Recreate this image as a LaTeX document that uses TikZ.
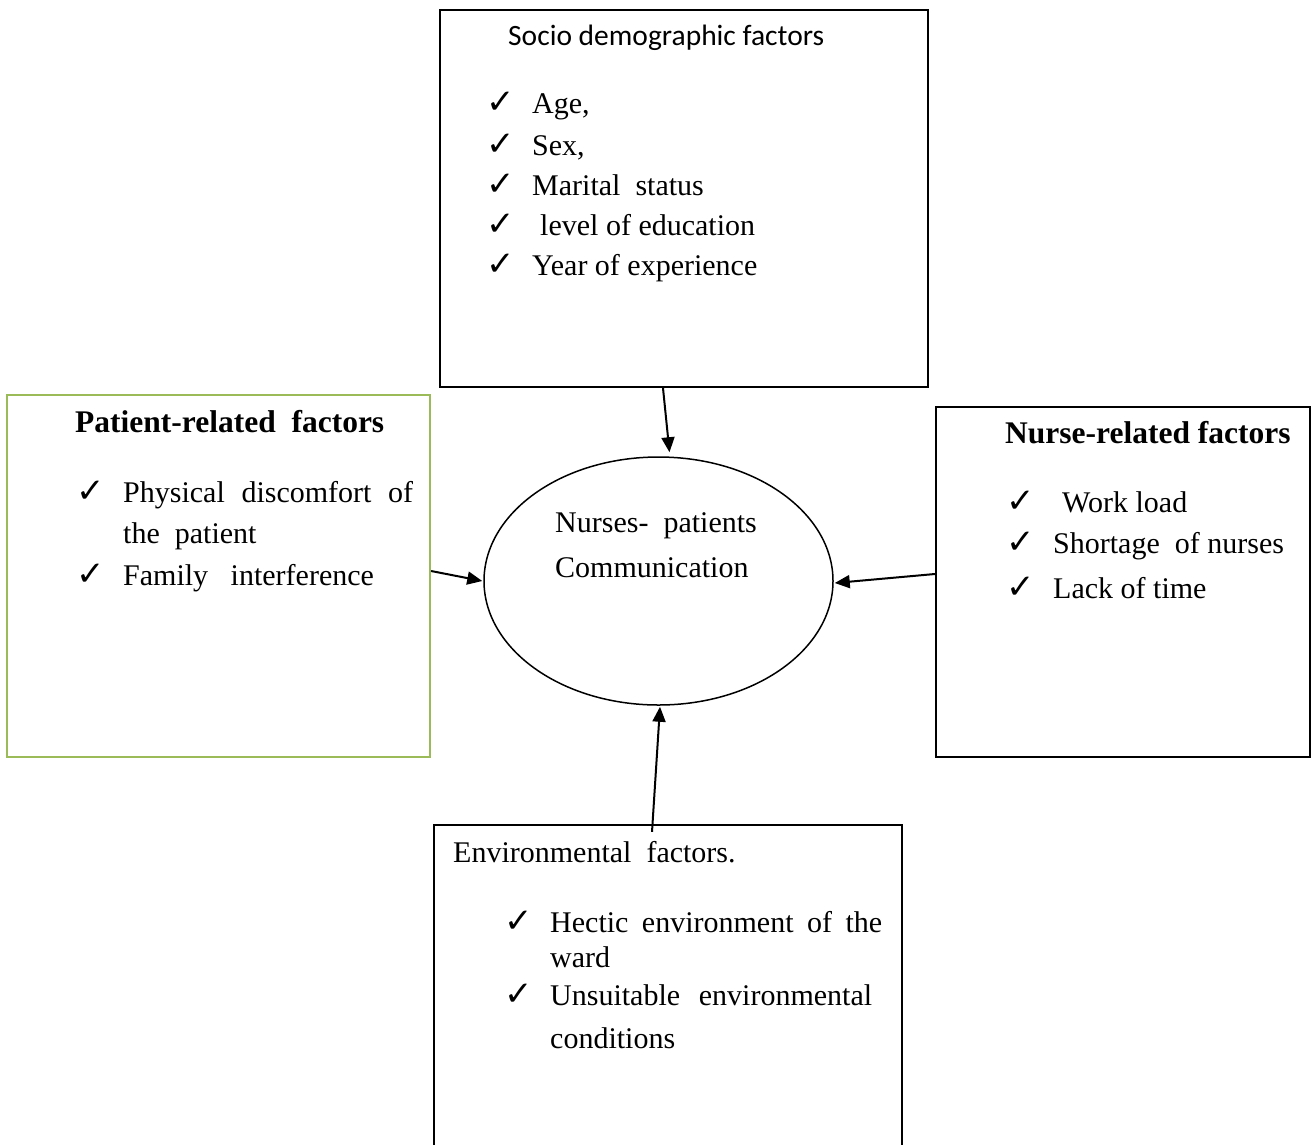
\documentclass[tikz,border=0pt]{standalone}
\usepackage{fontspec}
\setmainfont{Liberation Serif}
\newfontfamily\calfont{Carlito}
\newfontfamily\symfont{DejaVu Sans}
\usetikzlibrary{arrows.meta,shapes.geometric}
\definecolor{boxgreen}{HTML}{9BBB59}
\tikzset{
  frame/.style={draw=black, line width=2.2pt, minimum width=#1, inner sep=0pt},
  txt/.style={anchor=base west, inner sep=0pt, font=\fontsize{30}{34}\selectfont},
  head/.style={anchor=base west, inner sep=0pt, font=\fontsize{31.5}{36}\selectfont\bfseries},
  tick/.style={anchor=base west, inner sep=0pt, font=\fontsize{34}{38}\selectfont\symfont},
  arr/.style={line width=2pt, -{Triangle[length=15pt,width=13pt]}}
}
\begin{document}
\begin{tikzpicture}[x=1pt,y=-1pt]
\useasboundingbox[fill=white] (0,0) rectangle (1314,1144);
% boxes
\node[frame=488pt, minimum height=377pt] (top) at (684,198.5) {};
\node[frame=423pt, minimum height=362pt, draw=boxgreen] (left) at (218.5,576) {};
\node[frame=374pt, minimum height=350pt] (right) at (1123,582) {};
\node[frame=468pt, minimum height=335pt] (bottom) at (668,992.5) {};
\node[draw, line width=1.5pt, ellipse, minimum width=349pt, minimum height=248pt, inner sep=0pt] (ell) at (658.5,581) {};
% top box text
\node[anchor=base west, inner sep=0pt, font=\fontsize{29.5}{34}\selectfont\calfont] (tophead) at (508,45) {Socio demographic factors};
\node[tick] (t1) at (486,113) {✓};
\node[tick] (t2) at (486,155) {✓};
\node[tick] (t3) at (486,195) {✓};
\node[tick] (t4) at (486,235) {✓};
\node[tick] (t5) at (486,275) {✓};
\node[txt] (a1) at (532,113) {Age,};
\node[txt] (a2) at (532,155) {Sex,};
\node[txt] (a3) at (532,195) {Marital\ \ status};
\node[txt] (a4) at (540,235) {level of education};
\node[txt] (a5) at (532,275) {Year of experience};
% left box text
\node[head] (lhead) at (75,432) {Patient-related\ \ factors};
\node[tick] (l1) at (76,502) {✓};
\node[tick] (l2) at (76,585) {✓};
\node[txt] (b1) at (123,502) {\makebox[290pt][s]{Physical discomfort of}};
\node[txt] (b2) at (123,543) {the\ \ patient};
\node[txt] (b3) at (123,585) {Family\ \ \ interference};
% right box text
\node[head] (rhead) at (1005,443) {Nurse-related factors};
\node[tick] (r1) at (1006,512) {✓};
\node[tick] (r2) at (1006,553) {✓};
\node[tick] (r3) at (1006,598) {✓};
\node[txt] (c1) at (1062,512) {Work load};
\node[txt] (c2) at (1053,553) {Shortage\ \ of nurses};
\node[txt] (c3) at (1053,598) {Lack of time};
% bottom box text
\node[txt] (bhead) at (453,862) {Environmental\ \ factors.};
\node[tick] (e1) at (504,932) {✓};
\node[tick] (e2) at (504,1005) {✓};
\node[txt] (d1) at (550,932) {\makebox[332pt][s]{Hectic environment of the}};
\node[txt] (d2) at (550,967) {ward};
\node[txt] (d3) at (550,1005) {\makebox[322pt][s]{Unsuitable environmental}};
\node[txt] (d4) at (550,1048) {conditions};
% ellipse text
\node[txt] (m1) at (555,532) {Nurses-\ \ patients};
\node[txt] (m2) at (555,577) {Communication};
% arrows
\draw[arr] ([xshift=-21pt]top.south) -- ([xshift=11pt,yshift=4pt]ell.north);
\draw[arr] ([yshift=5pt]left.east) -- ([xshift=-1pt]ell.west);
\draw[arr] ([yshift=8pt]right.west) -- ([xshift=1pt,yshift=-2pt]ell.east);
\draw[arr] ([xshift=-16pt,yshift=-8pt]bottom.north) -- ([xshift=1.5pt,yshift=-1pt]ell.south);
\end{tikzpicture}
\end{document}
